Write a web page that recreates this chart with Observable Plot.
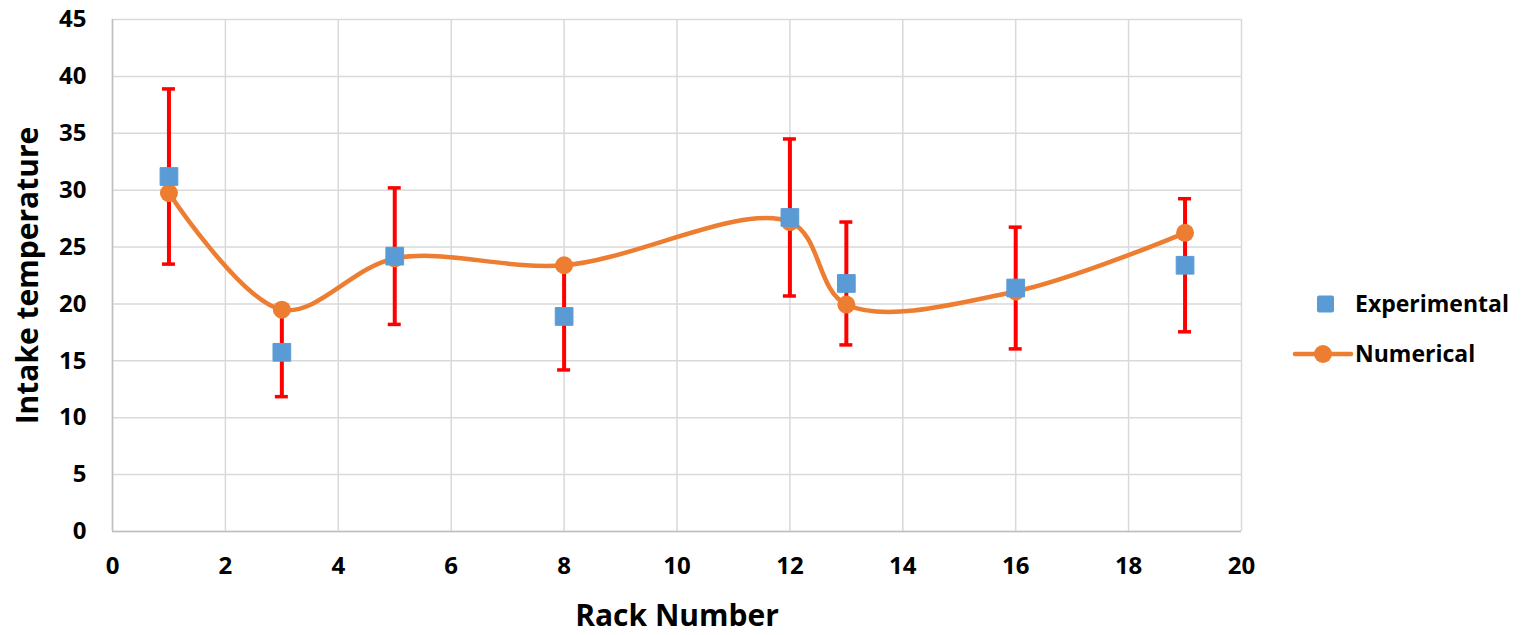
<!DOCTYPE html>
<html>
<head>
<meta charset="utf-8">
<script src="https://cdn.jsdelivr.net/npm/d3@7"></script>
<script src="https://cdn.jsdelivr.net/npm/@observablehq/plot@0.6"></script>
<style>
  html, body { margin: 0; padding: 0; background: #fff; }
  #wrap { position: relative; width: 1523px; height: 635px; }
  #legend { position: absolute; left: 0; top: 0; pointer-events: none; }
</style>
</head>
<body>
<div id="wrap"></div>
<script>
const racks        = [1, 3, 5, 8, 12, 13, 16, 19];
const experimental = [31.2, 15.75, 24.2, 18.9, 27.6, 21.8, 21.4, 23.4];
const errHalf      = [7.7, 3.9, 6.0, 4.7, 6.9, 5.4, 5.35, 5.85];
const numerical    = [29.75, 19.5, 24.0, 23.4, 27.2, 19.95, 21.1, 26.25];
const xTicks = [0, 2, 4, 6, 8, 10, 12, 14, 16, 18, 20];
const yTicks = [0, 5, 10, 15, 20, 25, 30, 35, 40, 45];
const seriesNames = ["Experimental", "Numerical"];
const colors = {Experimental: "#5B9BD5", Numerical: "#ED7D31", error: "#FF0000"};

const expData = racks.map((x, i) => ({x, y: experimental[i], lo: experimental[i] - errHalf[i], hi: experimental[i] + errHalf[i]}));
const numData = racks.map((x, i) => ({x, y: numerical[i]}));

const font = "'Open Sans', sans-serif";

const chart = Plot.plot({
  width: 1523,
  height: 635,
  marginLeft: 112,
  marginRight: 282,
  marginTop: 19,
  marginBottom: 104,
  style: {fontFamily: font, fontWeight: "bold", color: "#000", background: "#fff", overflow: "visible"},
  x: {domain: [0, 20], ticks: xTicks},
  y: {domain: [0, 45], ticks: yTicks},
  marks: [
    Plot.gridX(xTicks, {stroke: "#d9d9d9", strokeOpacity: 1, strokeWidth: 1.5}),
    Plot.gridY(yTicks, {stroke: "#d9d9d9", strokeOpacity: 1, strokeWidth: 1.5}),
    Plot.ruleX([0], {stroke: "#bfbfbf", strokeWidth: 1.5}),
    Plot.ruleY([0], {stroke: "#bfbfbf", strokeWidth: 1.5}),
    Plot.axisX(xTicks, {tickSize: 0, tickPadding: 25, fontSize: 24, label: null, fill: "#000"}),
    Plot.axisY(yTicks, {tickSize: 0, tickPadding: 26, fontSize: 24, label: null, fill: "#000"}),
    Plot.text(["Rack Number"], {frameAnchor: "bottom", dy: 85, lineAnchor: "middle", textAnchor: "middle", fontSize: 30, fontWeight: "bold", fill: "#000"}),
    Plot.text(["Intake temperature"], {frameAnchor: "left", dx: -84, rotate: -90, lineAnchor: "middle", textAnchor: "middle", fontSize: 30, fontWeight: "bold", fill: "#000"}),
    // error bars
    Plot.ruleX(expData, {x: "x", y1: "lo", y2: "hi", stroke: colors.error, strokeWidth: 4}),
    Plot.ruleY(expData, {x1: "x", x2: "x", y: "hi", stroke: colors.error, strokeWidth: 3.5, insetLeft: -6.5, insetRight: -6.5}),
    Plot.ruleY(expData, {x1: "x", x2: "x", y: "lo", stroke: colors.error, strokeWidth: 3.5, insetLeft: -6.5, insetRight: -6.5}),
    // numerical series
    Plot.line(numData, {x: "x", y: "y", stroke: colors.Numerical, strokeWidth: 4.5, curve: "catmull-rom"}),
    Plot.dot(numData, {x: "x", y: "y", r: 9, fill: colors.Numerical, stroke: "none"}),
    // experimental series
    Plot.dot(expData, {x: "x", y: "y", symbol: "square", r: 10, fill: colors.Experimental, stroke: colors.Experimental, strokeWidth: 1, strokeLinejoin: "round"})
  ]
});

const wrap = document.getElementById("wrap");
wrap.appendChild(chart);

// legend
const ns = "http://www.w3.org/2000/svg";
const leg = document.createElementNS(ns, "svg");
leg.setAttribute("id", "legend");
leg.setAttribute("width", 1523);
leg.setAttribute("height", 635);
leg.innerHTML = `
  <rect x="1317" y="295.5" width="17" height="17" rx="2" fill="${colors.Experimental}"/>
  <text x="1355" y="304" dy="0.36em" font-family="${font}" font-weight="bold" font-size="23" fill="#000">${seriesNames[0]}</text>
  <line x1="1295" x2="1351" y1="354" y2="354" stroke="${colors.Numerical}" stroke-width="4.5" stroke-linecap="round"/>
  <circle cx="1323" cy="354" r="9" fill="${colors.Numerical}"/>
  <text x="1355" y="354" dy="0.36em" font-family="${font}" font-weight="bold" font-size="23" fill="#000">${seriesNames[1]}</text>
`;
wrap.appendChild(leg);
</script>
</body>
</html>
